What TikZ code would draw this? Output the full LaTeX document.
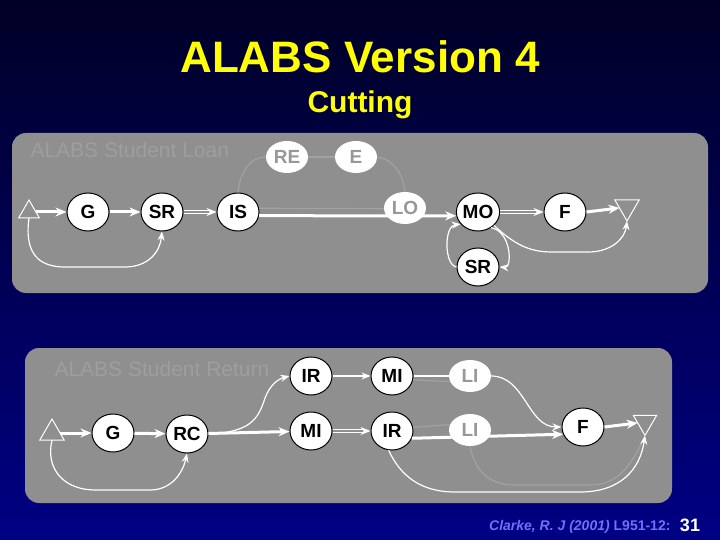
\documentclass[tikz,border=0pt]{standalone}
\usepackage{fontspec}
\setmainfont{Liberation Sans}
\usetikzlibrary{shapes.geometric,arrows.meta}
\definecolor{panel}{RGB}{143,143,143}
\definecolor{faint}{RGB}{162,162,162}
\definecolor{fainttext}{RGB}{152,152,152}
\definecolor{paneltext}{RGB}{158,158,158}
\definecolor{ttl}{RGB}{255,255,0}
\definecolor{bgtop}{RGB}{0,0,38}
\definecolor{bgbot}{RGB}{0,0,132}
\definecolor{citecol}{RGB}{112,112,255}
\begin{document}
\begin{tikzpicture}[x=1pt,y=-1pt,
  statenode/.style={ellipse,draw=black,line width=1pt,fill=white,minimum width=42pt,minimum height=38pt,inner sep=0pt,font=\fontsize{19}{19}\selectfont\bfseries},
  ghostnode/.style={ellipse,fill=white,minimum width=42pt,minimum height=32pt,inner sep=0pt,text=fainttext,font=\fontsize{19}{19}\selectfont\bfseries},
  srcnode/.style={regular polygon,regular polygon sides=3,draw=white,line width=1pt,inner sep=0pt,outer sep=0pt},
  snknode/.style={srcnode,shape border rotate=180},
  thickflow/.style={draw=white,line width=3pt,-{Stealth[length=11pt,width=9pt]}},
  thinflow/.style={draw=white,line width=1.2pt,-{Stealth[length=9pt,width=7pt]}},
  thinline/.style={draw=white,line width=1.2pt},
  dblflow/.style={draw=white,line width=0.9pt,double=panel,double distance=1.4pt,-{Stealth[length=10pt,width=8pt]}},
  faintline/.style={draw=faint,line width=1.2pt},
  paneltitle/.style={anchor=west,text=paneltext,font=\fontsize{21}{21}\selectfont}
]
\useasboundingbox (0,0) rectangle (720,540);
\shade[top color=bgtop,bottom color=bgbot] (0,0) rectangle (720,540);

% titles
\node[anchor=base,text=ttl,font=\fontsize{44}{44}\selectfont\bfseries] (title) at (360,73) {ALABS Version 4};
\node[anchor=base,text=ttl,font=\fontsize{30}{30}\selectfont\bfseries] (subtitle) at (360,113) {Cutting};

% panels
\fill[panel,rounded corners=14pt] (12,133) rectangle (708,293);
\fill[panel,rounded corners=14pt] (25,348) rectangle (672,503);
\node[paneltitle] (loanlabel) at (27,150) {ALABS Student Loan};
\node[paneltitle] (returnlabel) at (51,369) {ALABS Student Return};

% ---------- top panel ----------
\node[srcnode,minimum size=24pt] (s1) at (29,212) {};
\node[statenode] (g1) at (88,212) {G};
\node[statenode] (sr1) at (162,212) {SR};
\node[statenode] (is) at (238,212) {IS};
\node[ghostnode] (re) at (287,157) {RE};
\node[ghostnode] (e) at (356,157) {E};
\node[statenode] (mo) at (478,212) {MO};
\node[statenode] (f1) at (565,212) {F};
\node[snknode,minimum size=28pt] (s2) at (627,207) {};
\node[statenode] (sr2) at (478,267) {SR};

\draw[faintline] (is.north) .. controls (240,172) and (250,157) .. (re.west);
\draw[faintline] (re) -- (e);
\draw[faintline] (e.east) .. controls (395,160) and (403,175) .. (405,192);
\draw[faintline] (is.10) -- (390,208.7);

\draw[thickflow] (s1.east) -- (g1);
\draw[thickflow] (g1) -- (sr1);
\draw[dblflow] (sr1) -- (is);
\draw[thickflow] (is.-10) -- (mo.-170);
\node[ghostnode] (lo) at (405,208) {LO};
\draw[dblflow] (mo) -- (f1);
\draw[thickflow] (f1.east) -- (s2);
\draw[thinflow] (s1.south) .. controls (24,255) and (40,267) .. (65,267) -- (125,267) .. controls (148,267) and (160,252) .. (sr1.south);
\draw[thinflow] (mo.-40) .. controls (515,245) and (530,252) .. (552,252) -- (588,252) .. controls (612,252) and (625,238) .. (s2.south);
\draw[thinflow] (mo.-50) .. controls (512,232) and (512,268) .. (sr2.east);
\draw[thinflow] (sr2.west) .. controls (444,265) and (444,226) .. (mo.-145);

% ---------- bottom panel ----------
\node[srcnode,minimum size=28pt] (s3) at (52,433) {};
\node[statenode] (g2) at (113,433) {G};
\node[statenode] (rc) at (187,434) {RC};
\node[statenode] (ir1) at (311,376) {IR};
\node[statenode] (mi1) at (311,431) {MI};
\node[statenode] (mi2) at (392,376) {MI};
\node[statenode] (ir2) at (392,431) {IR};
\node[statenode] (f2) at (583,427) {F};
\node[snknode,minimum size=27pt] (s4) at (645,422) {};

\draw[faintline] (mi2.-10) -- (455,382);
\draw[faintline] (ir2.10) -- (452,424.5);
\draw[faintline] (470,446) .. controls (475,472) and (490,485) .. (515,485) -- (590,485) .. controls (615,485) and (630,470) .. (s4.south);

\draw[thickflow] (s3.east) -- (g2);
\draw[thickflow] (g2) -- (rc);
\draw[thickflow] (rc) -- (mi1);
\draw[thinflow] (rc.east) .. controls (250,432) and (258,420) .. (265,398) .. controls (270,385) and (278,379) .. (ir1.west);
\draw[thinflow] (ir1) -- (mi2);
\draw[dblflow] (mi1) -- (ir2);
\draw[thinline] (mi2.east) -- (455,376);
\draw[thickflow] (ir2.-20) -- (f2.-160);
\node[ghostnode] (li1) at (470,376) {LI};
\node[ghostnode] (li2) at (470,430) {LI};
\draw[thinflow] (li1.east) to[out=0,in=180] (f2.west);
\draw[thickflow] (f2.east) -- (s4);
\draw[thinflow] (s3.south) .. controls (45,470) and (65,490) .. (95,490) -- (150,490) .. controls (172,490) and (183,472) .. (rc.south);
\draw[thinflow] (ir2.-100) .. controls (400,475) and (420,492) .. (455,492) -- (580,492) .. controls (620,492) and (640,470) .. (s4.south);

% footer
\node[anchor=base east,text=citecol,font=\fontsize{14}{14}\selectfont\bfseries] (cite) at (674,530) {\itshape Clarke, R. J (2001) \upshape L951-12:};
\node[anchor=base,text=white,font=\fontsize{18}{18}\selectfont\bfseries] (pagenum) at (690,531) {31};
\end{tikzpicture}
\end{document}
